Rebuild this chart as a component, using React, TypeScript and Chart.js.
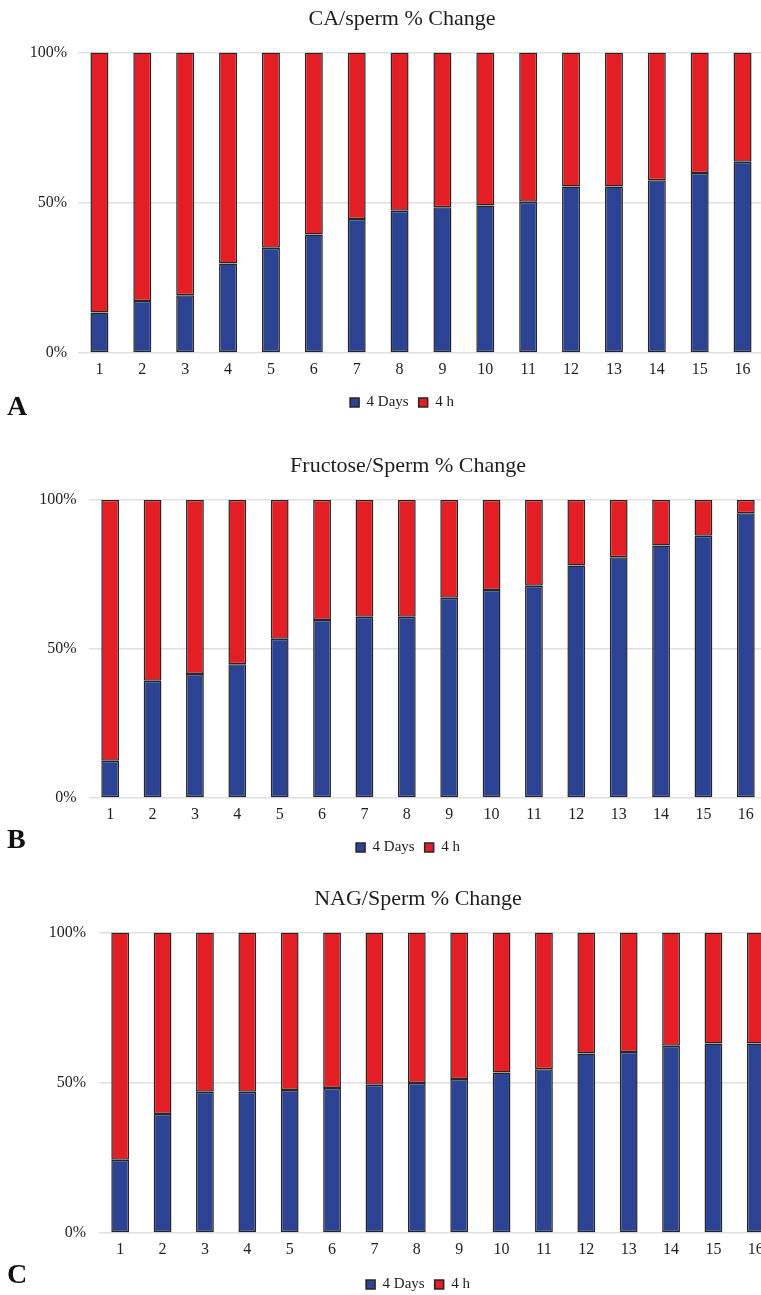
import React, { useEffect, useRef } from "react";
import { Chart, registerables } from "chart.js";

Chart.register(...registerables);

const categories = ["1", "2", "3", "4", "5", "6", "7", "8", "9", "10", "11", "12", "13", "14", "15", "16"];
const seriesNames = ["4 Days", "4 h"];
const yTickValues = [0, 50, 100];

const caDays = [13.5, 17.3, 19.2, 29.8, 35.0, 39.4, 44.6, 47.3, 48.5, 49.1, 50.3, 55.4, 55.4, 57.5, 59.9, 63.6];
const caHours = [86.5, 82.7, 80.8, 70.2, 65.0, 60.6, 55.4, 52.7, 51.5, 50.9, 49.7, 44.6, 44.6, 42.5, 40.1, 36.4];

const fructoseDays = [12.5, 39.3, 41.6, 44.9, 53.4, 59.7, 60.8, 60.8, 67.2, 69.8, 71.2, 78.0, 80.8, 84.7, 88.0, 95.5];
const fructoseHours = [87.5, 60.7, 58.4, 55.1, 46.6, 40.3, 39.2, 39.2, 32.8, 30.2, 28.8, 22.0, 19.2, 15.3, 12.0, 4.5];

const nagDays = [24.4, 39.6, 47.0, 47.0, 47.6, 48.2, 49.3, 49.9, 51.2, 53.4, 54.5, 59.7, 60.2, 62.3, 63.0, 63.0];
const nagHours = [75.6, 60.4, 53.0, 53.0, 52.4, 51.8, 50.7, 50.1, 48.8, 46.6, 45.5, 40.3, 39.8, 37.7, 37.0, 37.0];

const titles = ["CA/sperm % Change", "Fructose/Sperm % Change", "NAG/Sperm % Change"];
const panelLetters = ["A", "B", "C"];

const BLUE = "#2c4293";
const RED = "#e31e25";
const EDGE = "#262626";
const TEXT = "#1e1e1e";
const GRID = "#e0e0e0";
const FONT = "'Liberation Serif', 'Times New Roman', serif";

type Layout = {
  top: number;
  width: number;
  height: number;
  plotLeft: number;
  rightPad: number;
  yLabelPad: number;
  titleTop: number;
  titleBottom: number;
  xAxisHeight: number;
  letterTop: number;
};

const layouts: Layout[] = [
  { top: 0, width: 804, height: 420, plotLeft: 78, rightPad: 40, yLabelPad: 11, titleTop: 6, titleBottom: 20, xAxisHeight: 32, letterTop: 391.6 },
  { top: 440, width: 816, height: 425, plotLeft: 89, rightPad: 49, yLabelPad: 12.5, titleTop: 13, titleBottom: 20.5, xAxisHeight: 32, letterTop: 824.6 },
  { top: 878, width: 836, height: 424, plotLeft: 99, rightPad: 59, yLabelPad: 13, titleTop: 8, titleBottom: 20, xAxisHeight: 34, letterTop: 1259.6 },
];

function StackedPanel(props: { title: string; days: number[]; hours: number[]; layout: Layout }) {
  const ref = useRef<HTMLCanvasElement | null>(null);
  const { title, days, hours, layout } = props;

  useEffect(() => {
    if (!ref.current) return;
    const chart = new Chart(ref.current, {
      type: "bar",
      data: {
        labels: categories,
        datasets: [
          {
            label: seriesNames[0],
            data: days,
            backgroundColor: BLUE,
            borderColor: EDGE,
            borderWidth: 1.5,
            borderSkipped: false,
            categoryPercentage: 1,
            barPercentage: 0.42,
          },
          {
            label: seriesNames[1],
            data: hours,
            backgroundColor: RED,
            borderColor: EDGE,
            borderWidth: 1.5,
            borderSkipped: false,
            categoryPercentage: 1,
            barPercentage: 0.42,
          },
        ],
      },
      options: {
        responsive: false,
        animation: false,
        layout: { padding: { top: 0, left: 0, right: 0, bottom: 0 } },
        plugins: {
          tooltip: { enabled: false },
          title: {
            display: true,
            text: title,
            color: TEXT,
            font: { family: FONT, size: 22, weight: "normal" },
            padding: { top: layout.titleTop, bottom: layout.titleBottom },
          },
          legend: {
            display: true,
            position: "bottom",
            labels: {
              color: TEXT,
              font: { family: FONT, size: 15 },
              boxWidth: 9,
              boxHeight: 9,
              padding: 10,
            },
          },
        },
        scales: {
          x: {
            stacked: true,
            grid: { display: false, drawTicks: false },
            border: { display: false },
            ticks: { color: TEXT, font: { family: FONT, size: 16 }, padding: 7, maxRotation: 0, autoSkip: false },
            afterFit: (s: any) => {
              s.height = layout.xAxisHeight;
            },
          },
          y: {
            stacked: true,
            min: 0,
            max: 100,
            afterBuildTicks: (s: any) => {
              s.ticks = yTickValues.map((v) => ({ value: v }));
            },
            grid: { color: GRID, lineWidth: 1.5, drawTicks: false },
            border: { display: false },
            ticks: {
              color: TEXT,
              font: { family: FONT, size: 16 },
              padding: layout.yLabelPad,
              callback: (v: any) => v + "%",
            },
            afterFit: (s: any) => {
              s.width = layout.plotLeft;
            },
          },
          spacer: {
            type: "linear",
            position: "right",
            display: true,
            grid: { display: false, drawTicks: false },
            border: { display: false },
            ticks: { display: false },
            afterFit: (s: any) => {
              s.width = layout.rightPad;
            },
          },
        },
      } as any,
    });
    return () => chart.destroy();
  }, [title, days, hours, layout]);

  return (
    <canvas
      ref={ref}
      width={layout.width}
      height={layout.height}
      style={{ position: "absolute", left: 0, top: layout.top, width: layout.width, height: layout.height }}
    />
  );
}

export default function App() {
  const data = [
    [caDays, caHours],
    [fructoseDays, fructoseHours],
    [nagDays, nagHours],
  ];
  return (
    <div
      style={{
        position: "absolute",
        left: 0,
        top: 0,
        width: 761,
        height: 1295,
        overflow: "hidden",
        background: "#ffffff",
      }}
    >
      {layouts.map((layout, i) => (
        <React.Fragment key={i}>
          <StackedPanel title={titles[i]} days={data[i][0]} hours={data[i][1]} layout={layout} />
          <div
            style={{
              position: "absolute",
              left: 7,
              top: layout.letterTop,
              fontFamily: FONT,
              fontWeight: "bold",
              fontSize: 28,
              lineHeight: "28px",
              color: "#111",
            }}
          >
            {panelLetters[i]}
          </div>
        </React.Fragment>
      ))}
    </div>
  );
}
